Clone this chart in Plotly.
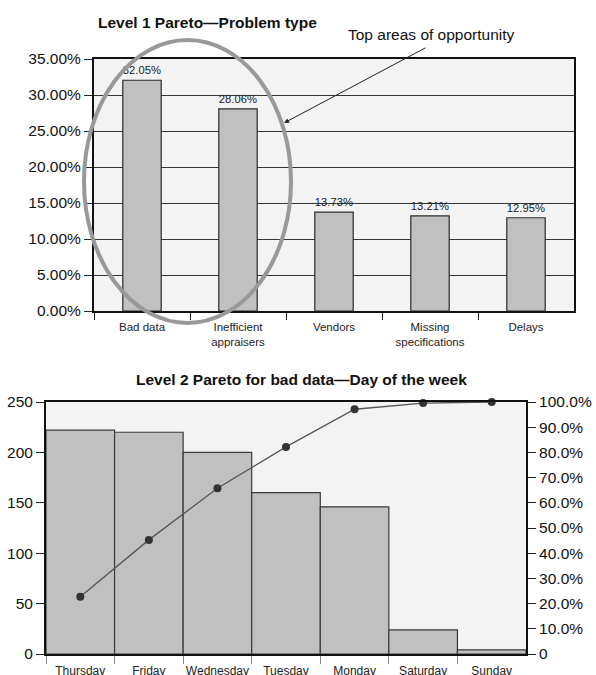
import numpy as np
import plotly.graph_objects as go

# ---- data ----
problem_types = ["Bad data", "Inefficient<br>appraisers", "Vendors",
                 "Missing<br>specifications", "Delays"]
problem_share = [32.05, 28.06, 13.73, 13.21, 12.95]
share_ticks = [0, 5, 10, 15, 20, 25, 30, 35]

weekdays = ["Thursday", "Friday", "Wednesday", "Tuesday", "Monday", "Saturday", "Sunday"]
bad_data_counts = [222, 220, 200, 160, 146, 24, 4]
count_ticks = [0, 50, 100, 150, 200, 250]
cum_ticks = [0, 10, 20, 30, 40, 50, 60, 70, 80, 90, 100]
cum_tick_labels = ["0"] + [f"{v:.1f}%" for v in cum_ticks[1:]]

cum_pct = np.cumsum(bad_data_counts) / np.sum(bad_data_counts) * 100

# ---- page geometry helpers (pixel -> paper) ----
W, H = 596, 675
def px(x):
    return x / W
def py(y):
    return 1 - y / H

FONT = "Liberation Sans, Arial, Helvetica, sans-serif"
BAR_FILL = "#c0c0c0"
BAR_EDGE = "#2a2a2a"

fig = go.Figure()

# Level 1: problem type bars
fig.add_trace(go.Bar(
    x=problem_types, y=problem_share, xaxis="x", yaxis="y", width=0.4,
    marker=dict(color=BAR_FILL, line=dict(color=BAR_EDGE, width=1.2)),
    text=[f"{v:.2f}%" for v in problem_share], textposition="outside",
    textfont=dict(size=12, color="#222"), cliponaxis=False,
    showlegend=False,
))

# Level 2: day-of-week bars
fig.add_trace(go.Bar(
    x=weekdays, y=bad_data_counts, xaxis="x2", yaxis="y2", width=1.0,
    marker=dict(color=BAR_FILL, line=dict(color="#3a3a3a", width=1.2)),
    showlegend=False,
))

# Level 2: cumulative percentage line
fig.add_trace(go.Scatter(
    x=weekdays, y=cum_pct, xaxis="x2", yaxis="y3", mode="lines+markers",
    line=dict(color="#555555", width=1.3),
    marker=dict(color="#333333", size=8),
    cliponaxis=False, showlegend=False,
))

fig.update_layout(
    width=W, height=H,
    margin=dict(l=0, r=0, t=0, b=0, autoexpand=False),
    paper_bgcolor="white",
    plot_bgcolor="#f3f3f3",
    font=dict(family=FONT, color="#111", size=15),
    xaxis=dict(
        domain=[px(94), px(574)], anchor="y", type="category", automargin=False,
        tickson="boundaries", ticks="outside", ticklen=7, tickcolor="#222",
        tickangle=0, ticklabelstandoff=4,
        showline=True, linecolor="#111", linewidth=1.5, mirror=True,
        showgrid=False, tickfont=dict(size=11.5, color="#222"),
    ),
    yaxis=dict(
        domain=[py(311), py(59)], anchor="x", range=[0, 35], automargin=False,
        tickvals=share_ticks, ticktext=[f"{v:.2f}%" for v in share_ticks],
        ticks="outside", ticklen=8, tickcolor="#222",
        showgrid=True, gridcolor="#333", gridwidth=1, zeroline=False,
        showline=True, linecolor="#111", linewidth=2, mirror=True,
        tickfont=dict(size=15.5, color="#111"),
    ),
    xaxis2=dict(
        domain=[px(46), px(526)], anchor="y2", type="category", automargin=False,
        tickson="boundaries", ticks="outside", ticklen=8, tickcolor="#888",
        tickangle=0, ticklabelstandoff=5,
        showline=True, linecolor="#111", linewidth=1.5, mirror=True,
        showgrid=False, tickfont=dict(size=12, color="#222"),
    ),
    yaxis2=dict(
        domain=[py(654), py(402)], anchor="x2", range=[0, 250], automargin=False,
        tickvals=count_ticks, ticks="outside", ticklen=8, tickcolor="#222",
        showgrid=False, zeroline=False,
        showline=True, linecolor="#111", linewidth=2,
        tickfont=dict(size=15.5, color="#111"),
    ),
    yaxis3=dict(
        overlaying="y2", anchor="x2", side="right", range=[0, 100], automargin=False,
        tickvals=cum_ticks, ticktext=cum_tick_labels,
        ticks="outside", ticklen=8, tickcolor="#222",
        showgrid=False, zeroline=False,
        showline=True, linecolor="#111", linewidth=2,
        tickfont=dict(size=15.5, color="#111"),
    ),
    shapes=[
        dict(type="circle", xref="paper", yref="paper",
             x0=px(84), x1=px(291), y0=py(323), y1=py(40),
             line=dict(color="#999999", width=4), layer="above"),
    ],
    annotations=[
        dict(text="<b>Level 1 Pareto\u2014Problem type</b>", xref="paper", yref="paper",
             x=px(207), y=py(22), xanchor="center", yanchor="middle",
             showarrow=False, font=dict(size=15.5, color="#111")),
        dict(text="<b>Level 2 Pareto for bad data\u2014Day of the week</b>",
             xref="paper", yref="paper", x=px(301), y=py(379),
             xanchor="center", yanchor="middle",
             showarrow=False, font=dict(size=15.5, color="#111")),
        dict(text="Top areas of opportunity", xref="paper", yref="paper",
             x=px(431), y=py(35), xanchor="center", yanchor="middle",
             showarrow=False, font=dict(size=15.5, color="#111")),
        dict(text="", xref="paper", yref="paper", x=px(284), y=py(123),
             ax=143, ay=-76, showarrow=True, arrowhead=2, arrowsize=1,
             arrowwidth=1, arrowcolor="#222"),
    ],
)

fig.write_html("out.html")
